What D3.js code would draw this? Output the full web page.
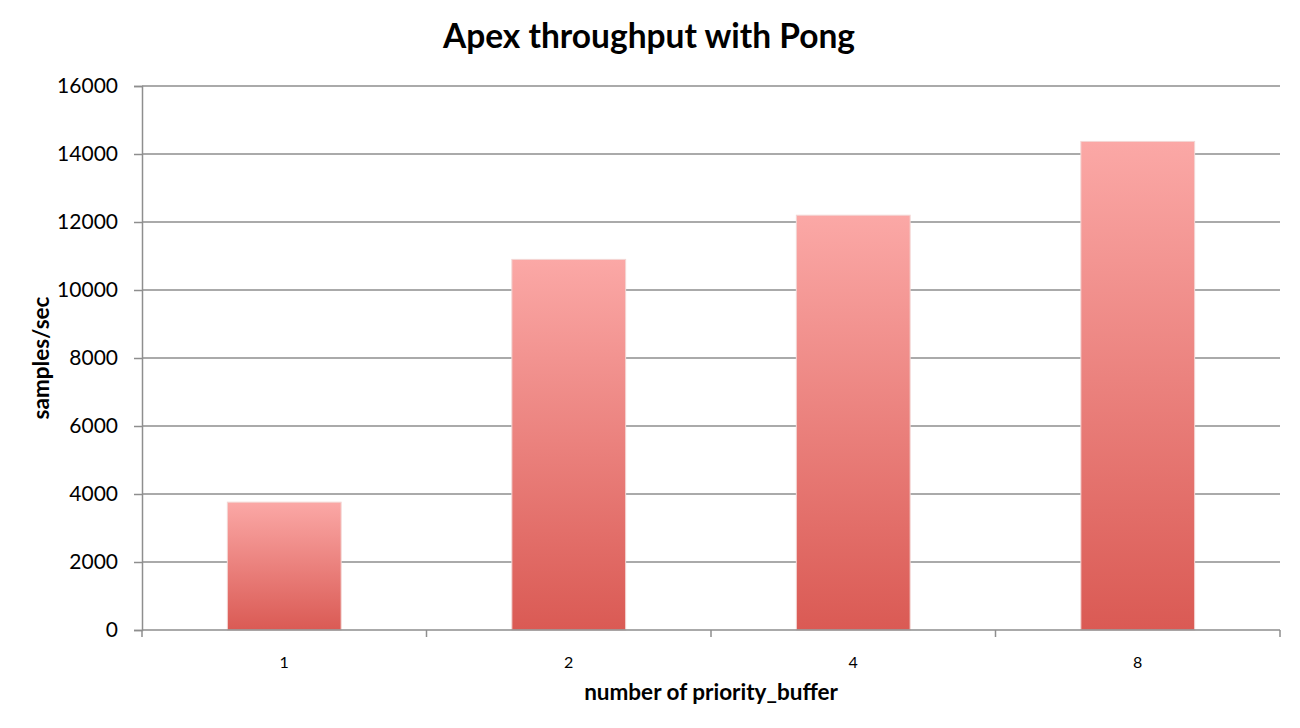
<!DOCTYPE html>
<html>
<head>
<meta charset="utf-8">
<script src="https://cdn.jsdelivr.net/npm/d3@7"></script>
<style>
  html, body { margin: 0; padding: 0; background: #fff; }
  svg { display: block; }
  text { font-family: Lato, "Open Sans", sans-serif; fill: #000; }
</style>
</head>
<body>
<div id="chart"></div>
<script>
const categories = ["1", "2", "4", "8"];
const values = [3760, 10900, 12200, 14370];
const yTicks = [0, 2000, 4000, 6000, 8000, 10000, 12000, 14000, 16000];
const title = "Apex throughput with Pong";
const xTitle = "number of priority_buffer";
const yTitle = "samples/sec";

const W = 1300, H = 728;
const margin = { left: 142, right: 20, top: 86, bottom: 98 };

const svg = d3.select("#chart").append("svg").attr("width", W).attr("height", H);

const defs = svg.append("defs");
const grad = defs.append("linearGradient").attr("id", "barGrad")
  .attr("x1", 0).attr("y1", 0).attr("x2", 0).attr("y2", 1);
grad.append("stop").attr("offset", "0%").attr("stop-color", "#fba8a6");
grad.append("stop").attr("offset", "100%").attr("stop-color", "#da5a54");

const x = d3.scaleBand().domain(categories)
  .range([margin.left, W - margin.right])
  .paddingInner(0.6).paddingOuter(0.3);
const y = d3.scaleLinear().domain([0, 16000]).range([H - margin.bottom, margin.top]);

// gridlines
svg.append("g").selectAll("line").data(yTicks.filter(d => d > 0)).join("line")
  .attr("x1", margin.left).attr("x2", W - margin.right)
  .attr("y1", d => y(d)).attr("y2", d => y(d))
  .attr("stroke", "#8e8e8e").attr("stroke-width", 1.5);

// bars
svg.append("g").selectAll("rect").data(values).join("rect")
  .attr("x", (d, i) => x(categories[i]))
  .attr("width", x.bandwidth())
  .attr("y", d => y(d))
  .attr("height", d => y(0) - y(d))
  .attr("fill", "url(#barGrad)")
  .attr("stroke", "#f3d6d4").attr("stroke-width", 1);

// y axis
const yAxis = d3.axisLeft(y).tickValues(yTicks).tickSize(8).tickPadding(16).tickFormat(d3.format("d"));
const gy = svg.append("g").attr("transform", `translate(${margin.left},0)`).call(yAxis);
gy.select(".domain").attr("stroke", "#8e8e8e").attr("stroke-width", 1.5);
gy.selectAll(".tick line").attr("stroke", "#8e8e8e").attr("stroke-width", 1.5);
gy.selectAll(".tick text").attr("font-size", 21).attr("font-family", "Lato, sans-serif").attr("fill", "#000");

// x axis
const xOuter = d3.scalePoint().domain(d3.range(categories.length + 1))
  .range([margin.left, W - margin.right]);
const gx = svg.append("g").attr("transform", `translate(0,${y(0)})`);
gx.append("line").attr("x1", margin.left).attr("x2", W - margin.right)
  .attr("stroke", "#8e8e8e").attr("stroke-width", 1.5);
gx.selectAll(".tk").data(xOuter.domain()).join("line").attr("class", "tk")
  .attr("x1", d => xOuter(d)).attr("x2", d => xOuter(d))
  .attr("y1", 0).attr("y2", 7)
  .attr("stroke", "#8e8e8e").attr("stroke-width", 1.5);
gx.selectAll("text").data(categories).join("text")
  .attr("x", d => x(d) + x.bandwidth() / 2)
  .attr("y", 38)
  .attr("text-anchor", "middle")
  .attr("font-size", 16)
  .text(d => d);

// titles
svg.append("text").attr("x", 649).attr("y", 48).attr("text-anchor", "middle")
  .attr("font-size", 33.5).attr("font-weight", "bold").text(title);
svg.append("text").attr("x", (margin.left + W - margin.right) / 2).attr("y", 700)
  .attr("text-anchor", "middle").attr("font-size", 22.5).attr("font-weight", "bold").text(xTitle);
svg.append("text").attr("transform", `translate(49,${(y(0) + y(16000)) / 2}) rotate(-90)`)
  .attr("text-anchor", "middle").attr("font-size", 22.5).attr("font-weight", "bold").text(yTitle);
</script>
</body>
</html>
